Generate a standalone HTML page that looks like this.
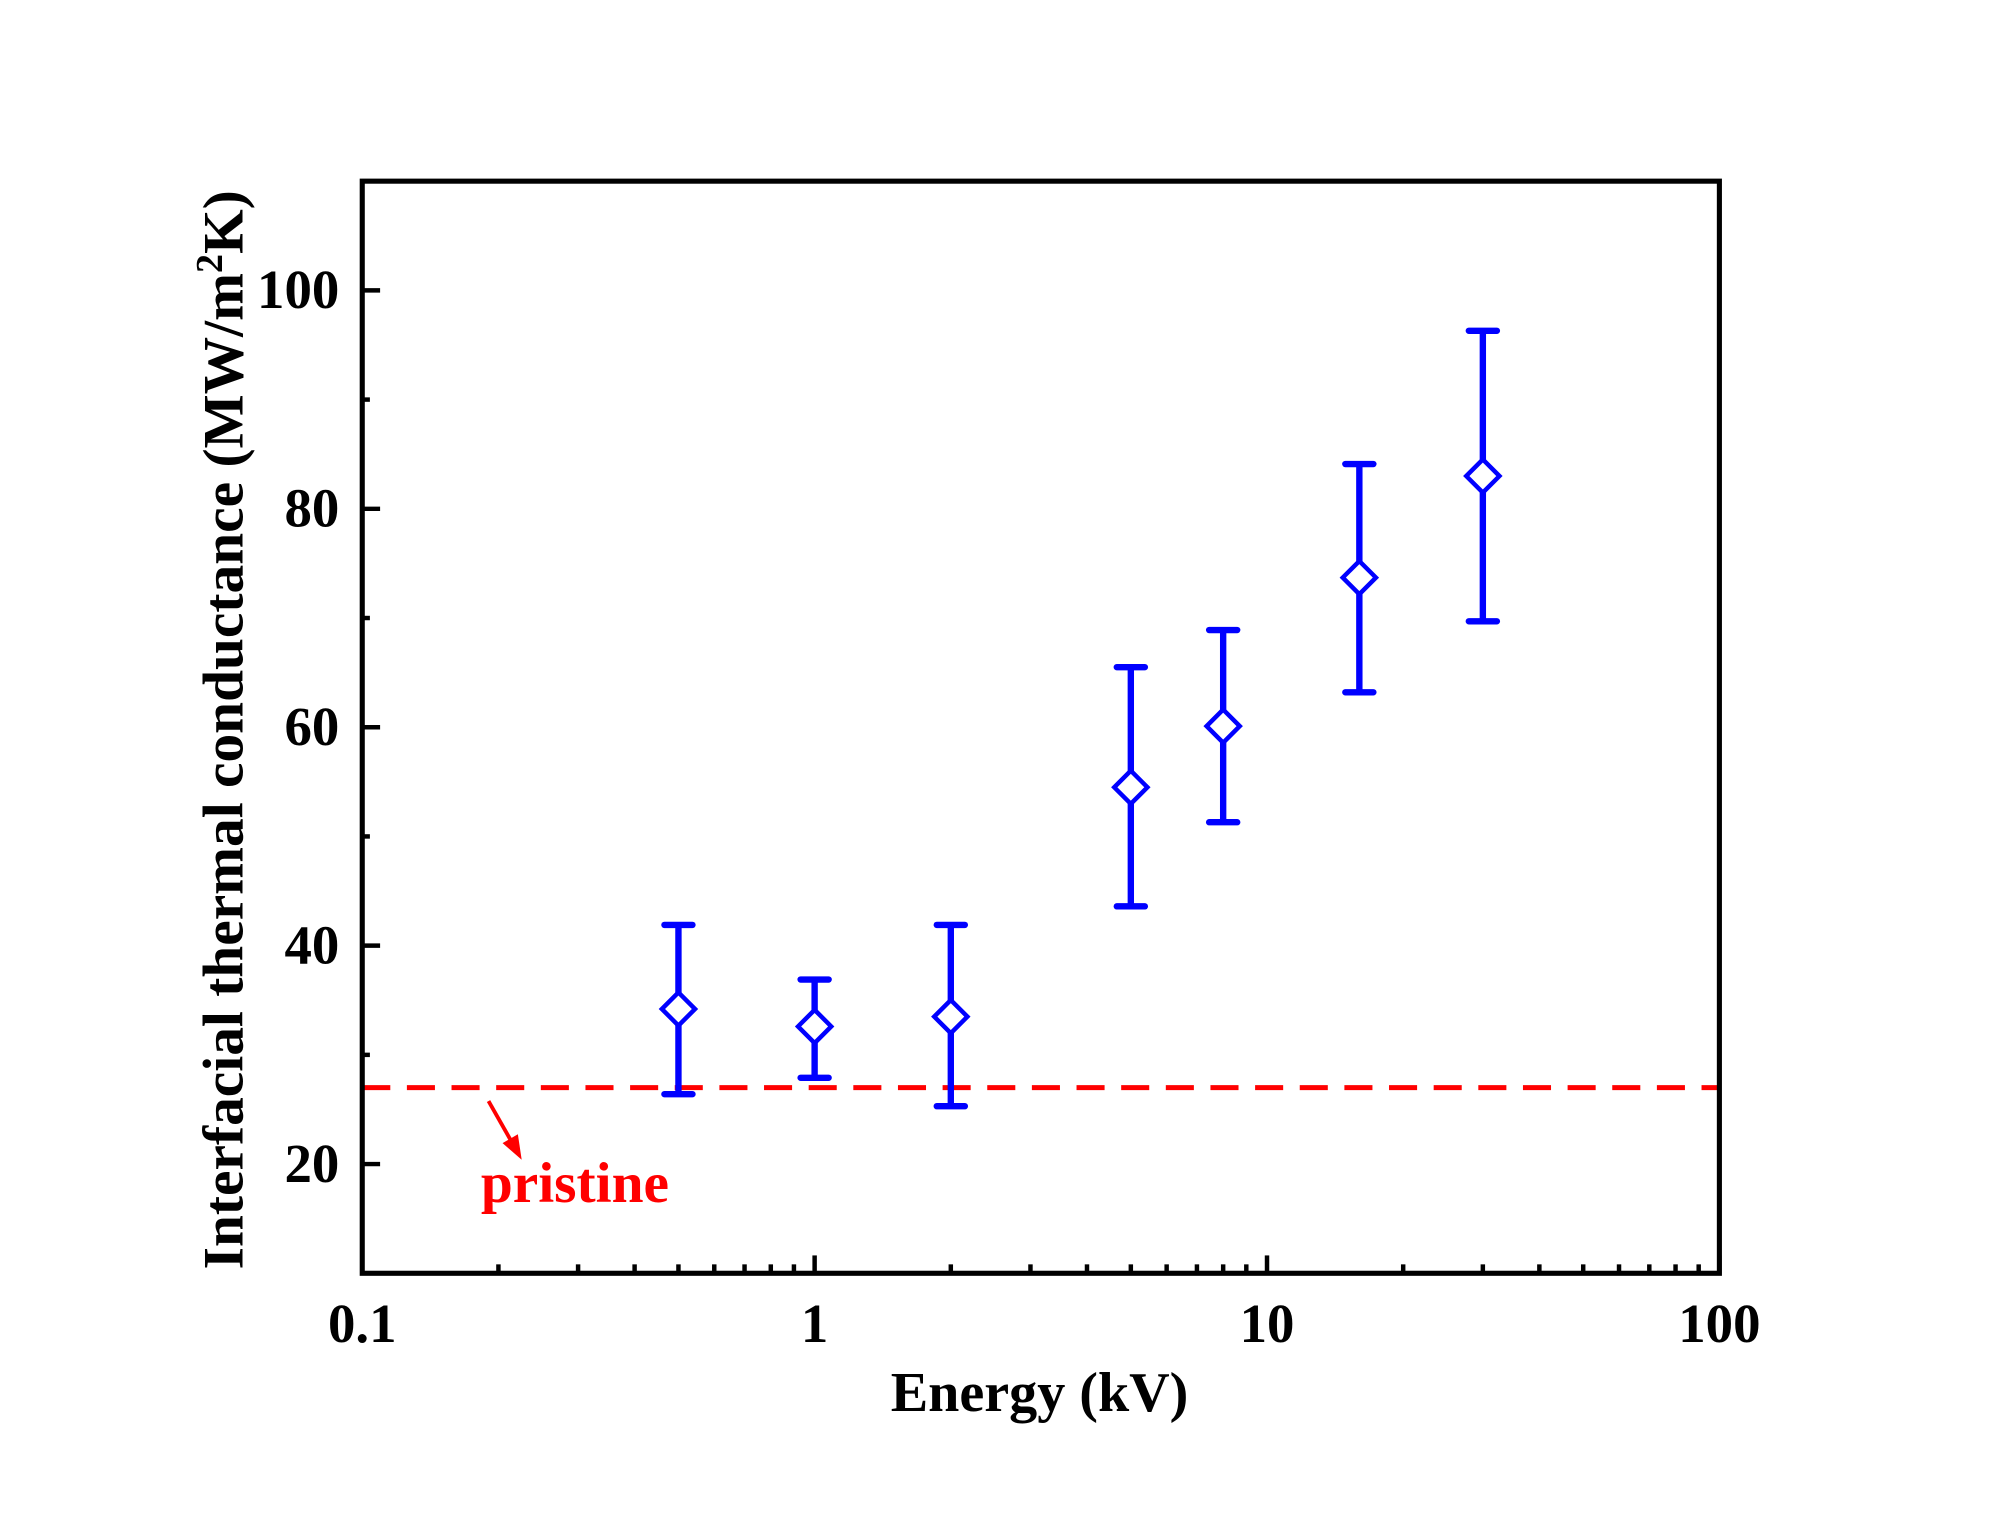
<!DOCTYPE html>
<html><head><meta charset="utf-8"><style>
html,body{margin:0;padding:0;background:#fff}
svg{display:block}
text{font-family:"Liberation Serif",serif;font-weight:bold}
</style></head><body>
<svg id="chart" width="2000" height="1531" viewBox="0 0 1568 1200" preserveAspectRatio="none" xmlns="http://www.w3.org/2000/svg">
<rect width="1568" height="1200" fill="#fff"/>
<g id="g"></g>
</svg>
<script>
const energies=[0.5,1,2,5,8,16,30];
const values=[34.2,32.6,33.5,54.5,60.1,73.7,83.0];
const errLow=[26.4,27.9,25.3,43.6,51.3,63.2,69.7];
const errHigh=[41.9,36.9,41.9,65.5,68.9,84.1,96.3];
const pristine=27.0;
const yTicks=[20,40,60,80,100];
const xTickLabels=["0.1","1","10","100"];
const xTickValues=[0.1,1,10,100];

const L=284,R=1348,T=142,B=998;
const xs=v=>L+(Math.log10(v)+1)/3*(R-L);
const ys=v=>B-(v-10)/100*(B-T);
const NS="http://www.w3.org/2000/svg";
const g=document.getElementById('g');
function el(t,a,txt){const e=document.createElementNS(NS,t);for(const k in a)e.setAttribute(k,a[k]);if(txt!==undefined)e.textContent=txt;g.appendChild(e);return e;}

for(let v=10;v<=110;v+=10){
  const major=yTicks.includes(v);
  const t=el('line',{x1:L,x2:L+(major?14:6),y1:ys(v),y2:ys(v),stroke:'#000','stroke-width':3.5});
  
  
}
yTicks.forEach(v=>{
  const t=el('text',{x:L-18,y:ys(v)+14,'font-size':43,'text-anchor':'end'},String(v));
  
  
});
for(let d=0;d<3;d++){
  for(let m=1;m<=10;m++){
    const v=Math.pow(10,d-1)*m;
    if(m===1&&d>0)continue;
    const major=(m===1||m===10);
    const t=el('line',{x1:xs(v),x2:xs(v),y1:B,y2:B-(major?14:7),stroke:'#000','stroke-width':3.5});
    
    
  }
}
xTickValues.forEach((v,i)=>{
  const t=el('text',{x:xs(v),y:B+54,'font-size':43,'text-anchor':'middle'},xTickLabels[i]);
  
  
});
const pl=el('line',{x1:L,x2:R,y1:ys(pristine),y2:ys(pristine),stroke:'#ff0000','stroke-width':4,'stroke-dasharray':'22 13'});


const ar=el('line',{x1:383,y1:863,x2:400,y2:893,stroke:'#ff0000','stroke-width':3});


const ah=el('polygon',{points:'409,909 394,896 406,889',fill:'#ff0000'});


const pt=el('text',{x:377,y:942,'font-size':45,fill:'#ff0000'},'pristine');


energies.forEach((e,i)=>{
  const x=xs(e);
  const b=el('line',{x1:x,x2:x,y1:ys(errLow[i]),y2:ys(errHigh[i]),stroke:'#0000ff','stroke-width':5});
  
  
  [errLow[i],errHigh[i]].forEach(v=>{
    const c=el('line',{x1:x-11,x2:x+11,y1:ys(v),y2:ys(v),stroke:'#0000ff','stroke-width':5,'stroke-linecap':'round'});
    
    
  });
  const y=ys(values[i]),s=13;
  const d=el('polygon',{points:`${x},${y-s} ${x+s},${y} ${x},${y+s} ${x-s},${y}`,fill:'#fff',stroke:'#0000ff','stroke-width':3.5});
  
  
});
const fr=el('rect',{x:L,y:T,width:R-L,height:B-T,fill:'none',stroke:'#000','stroke-width':4});


const xt=el('text',{x:815,y:1106,'font-size':44,'text-anchor':'middle'},'Energy (kV)');


const yt=el('text',{x:0,y:0,'font-size':45,'text-anchor':'middle',transform:'translate(190,572) rotate(-90)'});


yt.innerHTML='Interfacial thermal conductance (MW/m<tspan dy="-16" font-size="30">2</tspan><tspan dy="16">K)</tspan>';
</script>
</body></html>
